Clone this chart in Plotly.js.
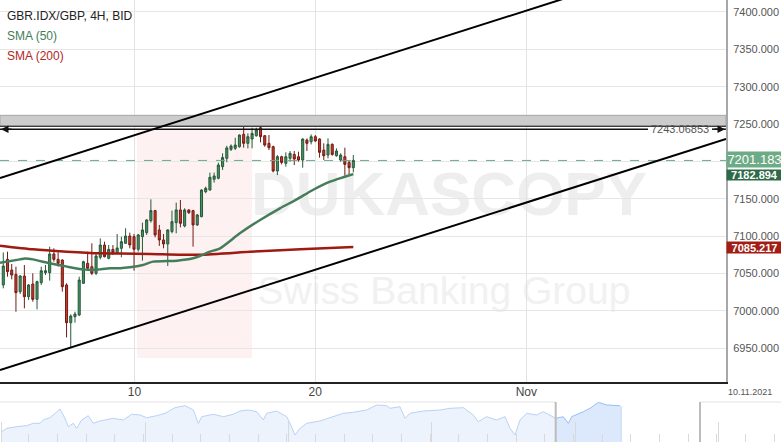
<!DOCTYPE html>
<html><head><meta charset="utf-8">
<script src="https://cdn.plot.ly/plotly-3.0.1.min.js"></script>
<style>html,body{margin:0;padding:0;background:#fff;overflow:hidden}#chart{width:781px;height:442px}</style>
</head><body><div id="chart"></div><script>
// ---- data ----
const candleOpen = [7034.4,7068.7,7054.4,7048.6,7025.4,7046.4,7018.7,7035.7,7015.2,7037.5,
 7050.9,7050.9,7075.9,7068.7,7067.8,7034.4,6983.9,6991.9,6994.2,7036.6,
 7063.4,7058.9,7050.0,7071.4,7087.9,7070.1,7082.1,7077.7,7083.5,7090.2,
 7100.0,7099.1,7082.2,7099.1,7104.5,7120.6,7134.0,7108.1,7094.7,7089.3,
 7105.9,7117.9,7134.9,7113.4,7134.9,7134.0,7114.8,7125.9,7159.4,7161.6,
 7175.9,7177.3,7192.9,7204.0,7216.0,7217.4,7219.6,7236.1,7224.1,7229.9,
 7234.3,7245.0,7234.3,7224.1,7219.6,7187.0,7206.2,7197.3,7204.0,7209.3,
 7206.2,7201.7,7228.5,7226.3,7233.0,7229.9,7215.1,7208.4,7222.7,7207.5,
 7201.7,7206.2,7198.6,7191.5];
const candleHigh = [7078.0,7079.0,7062.5,7058.9,7047.7,7061.1,7035.7,7050.0,7040.2,7058.9,
 7061.1,7085.7,7083.5,7078.1,7068.7,7036.6,6995.1,6998.6,7045.5,7066.9,
 7079.0,7090.2,7076.8,7096.8,7092.4,7087.9,7087.9,7102.7,7099.1,7110.3,
 7104.5,7102.7,7102.7,7117.9,7122.4,7149.1,7134.9,7114.8,7102.7,7109.0,
 7134.0,7144.7,7148.2,7137.1,7135.8,7134.9,7129.5,7162.5,7166.1,7184.9,
 7184.9,7198.2,7210.7,7220.8,7222.7,7231.6,7236.1,7246.4,7237.4,7245.0,
 7245.0,7247.7,7235.2,7235.2,7220.9,7208.4,7207.5,7212.0,7213.8,7213.8,
 7212.9,7230.8,7230.8,7236.1,7235.2,7230.8,7224.1,7230.8,7224.1,7217.4,
 7210.7,7218.3,7201.7,7208.4];
const candleLow = [7029.9,7045.5,7041.9,6998.6,7022.3,7003.1,7014.3,7012.0,7001.8,7034.4,
 7047.7,7040.2,7065.6,7058.9,7025.4,6964.3,6950.9,6983.9,6992.8,7035.7,
 7054.4,7047.7,7047.7,7068.7,7071.4,7068.7,7074.5,7076.8,7071.5,7089.3,
 7083.5,7053.6,7079.1,7067.0,7101.4,7117.9,7098.2,7086.7,7083.5,7059.9,
 7103.6,7103.6,7111.6,7111.6,7129.5,7085.7,7113.4,7125.0,7157.2,7160.7,
 7171.5,7175.9,7188.4,7198.8,7213.8,7215.1,7218.3,7218.3,7217.4,7217.4,
 7233.0,7225.4,7219.6,7215.1,7185.2,7181.6,7195.9,7192.8,7199.5,7195.0,
 7199.5,7191.5,7213.8,7222.7,7226.3,7204.9,7201.7,7204.0,7207.5,7206.2,
 7199.5,7180.8,7182.5,7185.2];
const candleClose = [7059.8,7052.2,7047.7,7024.1,7046.4,7018.7,7034.4,7015.2,7038.8,7053.5,
 7053.5,7075.9,7068.7,7063.4,7032.1,6983.9,6992.8,6995.5,7041.0,7065.6,
 7056.7,7050.0,7073.2,7087.9,7072.3,7082.1,7077.7,7084.0,7092.4,7100.0,
 7088.0,7082.2,7101.4,7108.1,7121.5,7134.0,7101.4,7094.7,7089.3,7108.1,
 7119.2,7134.9,7117.0,7134.9,7131.3,7114.8,7128.2,7161.6,7163.9,7178.6,
 7180.4,7195.1,7205.0,7218.0,7220.5,7221.8,7235.2,7224.1,7233.0,7237.4,
 7241.9,7233.0,7221.8,7218.3,7187.0,7206.2,7198.6,7206.2,7210.7,7203.1,
 7201.7,7229.9,7224.1,7233.0,7227.2,7212.0,7207.5,7222.7,7209.3,7213.8,
 7208.4,7195.9,7191.5,7201.2];

// SMA readings (candle position, value)
const sma50X = [-0.78,3.96,5.15,7.04,11.07,15.1,18.9,21.3,22.9,25.3,27.7,30.0,33.1,35.5,41.2,45.0,46.6,49.0,51.4,56.1,60.9,65.6,69.6,73.4,77.5,80.6,83.0];
const sma50Y = [7064.3,7068.7,7070.0,7068.7,7063.4,7059.0,7055.3,7054.4,7055.3,7056.7,7056.7,7058.0,7061.2,7065.7,7067.0,7070.1,7073.2,7079.0,7083.5,7103.6,7121.4,7137.1,7149.1,7161.6,7172.7,7178.6,7182.9];
const sma200X = [-0.78,7.04,15.1,22.9,27.7,34.8,46.6,58.5,70.4,83.0];
const sma200Y = [7087.0,7082.1,7079.0,7076.8,7076.5,7076.0,7074.8,7078.8,7082.4,7085.2];

// channel trend lines: [x0, y0, x1, y1]
const upperChannel = [-0.78, 7177.7, 171.38, 7486.9];
const lowerChannel = [-0.78, 6920.5, 171.38, 7229.9];
const resistanceLevel = 7243.06853;
const resistanceZone = [7247.0, 7261.6];

const lastPrice = 7201.183;
const lastSma50 = 7182.894;
const lastSma200 = 7085.217;

const xTickPos = [31.11, 73.96, 124.04];
const xTickText = ['10', '20', 'Nov'];
const yTicks = [6950,7000,7050,7100,7150,7200,7250,7300,7350,7400];
// 7200.000 sits under the last-price box in the reference, so it shows no text
const yTickText = ['6950.000','7000.000','7050.000','7100.000','7150.000','','7250.000','7300.000','7350.000','7400.000'];

// navigator overview (horizontal position, height)
const navX1 = [1.7,6.7,16.7,26.7,33.3,40,43.3,50,60,65,68.3,73.3,76.7,81.7,88.3,93.3,100,113.3,123.3,131.7,140,146.7,156.7,165,175,185,193.3,198.3,201.7,213.3,223.3,233.3,240,248.3,256.7,263.3,266.7,276.7,286.7,290,295,300,306.7,320,330,333.3,343.3,353.3,366.7,376.7,386.7,390,400,405,410,423.3,440,450,463.3,473.3,478.3,486.7,496.7,505,510,515,520,526.7,536.7,543.3,550,555.7];
const navY1 = [10.3,13.7,15.3,16.3,18.7,18.7,22,24.3,33,23.7,15.3,18.7,13.7,22,26.3,18.7,21,23.7,22,27.7,27,24.3,26.3,28.7,34.3,36.3,32,18.7,25.3,27.7,25.3,27.7,31,32,30.3,22,28.7,31,25.3,18.7,7,13.7,18.7,21,24.3,25.3,28.7,29.7,32,37,36.3,33.7,35.3,23.7,28.7,31,32,33.7,34.3,27,20.3,25.3,22,25.3,13.7,7,22,28.7,27,30.3,27,23.7];
const navX2 = [555.7,563.3,568.3,571.7,583.3,590,598.3,606.7,620];
const navY2 = [23.7,25.3,18.7,25.3,30.3,33.7,39.7,37,36.3];

// ---- geometry ----
const W = 781, H = 442, PLOT_R = 726, PLOT_B = 382, NAV_T = 402;
const FONT = 'Liberation Sans, Arial, sans-serif';
const dx = px => px / PLOT_R;            // x domain fraction
const dy = py => (PLOT_B - py) / PLOT_B; // y domain fraction
const pxp = px => px / W;                // paper x
const pyp = py => 1 - py / H;            // paper y

const idx = candleOpen.map((_, i) => i);

const traces = [
  {type:'candlestick', x: idx, open: candleOpen, high: candleHigh, low: candleLow, close: candleClose,
   xaxis:'x', yaxis:'y', whiskerwidth:0, hoverinfo:'skip',
   increasing:{line:{color:'#27593a', width:1}, fillcolor:'#449262'},
   decreasing:{line:{color:'#731c14', width:1}, fillcolor:'#c43b2d'}},
  {type:'scatter', mode:'lines', x: sma200X, y: sma200Y, xaxis:'x', yaxis:'y',
   line:{color:'#9e1a12', width:2.5, shape:'spline', smoothing:0.6}, hoverinfo:'skip'},
  {type:'scatter', mode:'lines', x: sma50X, y: sma50Y, xaxis:'x', yaxis:'y',
   line:{color:'#457d5b', width:2.5, shape:'spline', smoothing:0.6}, hoverinfo:'skip'},
  {type:'scatter', mode:'lines', x: navX1, y: navY1, xaxis:'x2', yaxis:'y2', fill:'tozeroy',
   fillcolor:'#edf3fd', line:{color:'#b9d2f6', width:1}, hoverinfo:'skip'},
  {type:'scatter', mode:'lines', x: navX2, y: navY2, xaxis:'x2', yaxis:'y2', fill:'tozeroy',
   fillcolor:'#dce8fb', line:{color:'#98bff3', width:1}, hoverinfo:'skip'}
];

const shapes = [
  // watermark logo
  {type:'rect', layer:'below', xref:'x domain', yref:'y domain', x0:dx(137), x1:dx(252), y0:dy(358), y1:dy(130),
   fillcolor:'#fdf1f1', line:{width:0}},
  // watermark texts
  {type:'rect', layer:'below', xref:'x domain', yref:'y domain', x0:dx(249), x1:dx(649), y0:dy(227), y1:dy(147),
   fillcolor:'rgba(0,0,0,0)', line:{width:0},
   label:{text:'DUKASCOPY', textposition:'middle center',
     font:{family:'Liberation Sans, Arial, sans-serif', size:62, color:'#eeeeee', weight:'bold'}}},
  {type:'rect', layer:'below', xref:'x domain', yref:'y domain', x0:dx(244), x1:dx(644), y0:dy(306), y1:dy(266),
   fillcolor:'rgba(0,0,0,0)', line:{width:0},
   label:{text:'Swiss Banking Group', textposition:'middle center',
     font:{family:'Liberation Sans, Arial, sans-serif', size:39, color:'#f1f1f1'}}},
  // resistance zone
  {type:'rect', layer:'above', xref:'x domain', yref:'y', x0:0, x1:1, y0:resistanceZone[0], y1:resistanceZone[1],
   fillcolor:'#cccccc', line:{color:'#a5a5a5', width:1}},
  {type:'line', layer:'above', xref:'x domain', yref:'y', x0:0, x1:1, y0:resistanceZone[0], y1:resistanceZone[0],
   line:{color:'#111', width:1}},
  // resistance line (broken around its label)
  {type:'line', layer:'above', xref:'x domain', yref:'y', x0:0, x1:dx(648), y0:resistanceLevel, y1:resistanceLevel,
   line:{color:'#111', width:1.5}},
  {type:'line', layer:'above', xref:'x domain', yref:'y', x0:dx(712), x1:1, y0:resistanceLevel, y1:resistanceLevel,
   line:{color:'#111', width:1.5}},
  // last price
  {type:'line', layer:'above', xref:'x domain', yref:'y', x0:0, x1:1, y0:lastPrice, y1:lastPrice,
   line:{color:'#6dab87', width:1, dash:'dash'}},
  // channel
  {type:'line', layer:'above', xref:'x', yref:'y', x0:upperChannel[0], y0:upperChannel[1], x1:upperChannel[2], y1:upperChannel[3],
   line:{color:'#000', width:2}},
  {type:'line', layer:'above', xref:'x', yref:'y', x0:lowerChannel[0], y0:lowerChannel[1], x1:lowerChannel[2], y1:lowerChannel[3],
   line:{color:'#000', width:2}},
  // navigator frame
  {type:'line', xref:'paper', yref:'paper', x0:0, x1:pxp(555.7), y0:pyp(NAV_T), y1:pyp(NAV_T), line:{color:'#e2e2e2', width:1}},
  {type:'line', xref:'paper', yref:'paper', x0:pxp(700), x1:1, y0:pyp(NAV_T), y1:pyp(NAV_T), line:{color:'#e2e2e2', width:1}},
  {type:'line', xref:'paper', yref:'paper', x0:pxp(621), x1:pxp(621), y0:0, y1:pyp(406), line:{color:'#a9c8f4', width:1}},
  {type:'line', xref:'paper', yref:'paper', x0:pxp(555.7), x1:pxp(555.7), y0:0, y1:pyp(NAV_T), line:{color:'#bcbcbc', width:2}},
  {type:'line', xref:'paper', yref:'paper', x0:pxp(700), x1:pxp(700), y0:0, y1:pyp(NAV_T), line:{color:'#bcbcbc', width:2}}
];

const boxLabel = (val, bg, size, h, bold, shift) => ({xref:'paper', yref:'y', x:pxp(PLOT_R), y:val, xanchor:'left', yanchor:'middle',
  text: val.toFixed(3), showarrow:false, bgcolor:bg, width:55, height:h, borderpad:0, align:'center', yshift:shift,
  font:{family:FONT, size:size, color:'#fff', weight: bold ? 'bold' : 'normal'}});

const annotations = [
  {xref:'paper', yref:'paper', x:pxp(5), y:pyp(16), xanchor:'left', yanchor:'middle', showarrow:false,
   text:'GBR.IDX/GBP, 4H, BID', font:{family:FONT, size:12, color:'#222'}},
  {xref:'paper', yref:'paper', x:pxp(5), y:pyp(36), xanchor:'left', yanchor:'middle', showarrow:false,
   text:'SMA (50)', font:{family:FONT, size:12, color:'#3f7d58'}},
  {xref:'paper', yref:'paper', x:pxp(5), y:pyp(56), xanchor:'left', yanchor:'middle', showarrow:false,
   text:'SMA (200)', font:{family:FONT, size:12, color:'#b3261d'}},
  {xref:'x domain', yref:'y', x:dx(680), y:resistanceLevel, xanchor:'center', yanchor:'middle', showarrow:false,
   text: resistanceLevel.toFixed(5), font:{family:FONT, size:11, color:'#555'}},
  {xref:'x domain', yref:'y', x:dx(1), y:resistanceLevel, ax:12, ay:0, text:'', showarrow:true,
   arrowhead:2, arrowsize:1, arrowwidth:1.5, arrowcolor:'#111'},
  {xref:'x domain', yref:'y', x:dx(725), y:resistanceLevel, ax:-12, ay:0, text:'', showarrow:true,
   arrowhead:2, arrowsize:1, arrowwidth:1.5, arrowcolor:'#111'},
  boxLabel(lastSma200, '#a31d14', 11, 11, true, 0),
  boxLabel(lastSma50, '#2e6a47', 11, 10, true, -1),
  boxLabel(lastPrice, '#6dab87', 13, 15, false, 1),
  {xref:'paper', yref:'paper', x:pxp(749.5), y:pyp(392), xanchor:'center', yanchor:'middle', showarrow:false,
   text:'10.11.2021', font:{family:FONT, size:9, color:'#555'}}
];

const layout = {
  width: W, height: H, margin:{l:0, r:0, t:0, b:0, pad:0},
  paper_bgcolor:'#fff', plot_bgcolor:'rgba(0,0,0,0)', showlegend:false, hovermode:false,
  xaxis:{domain:[0, PLOT_R/W], range:[-0.78, 171.38], anchor:'y', tickmode:'array', tickvals:xTickPos, ticktext:xTickText,
    showgrid:true, gridcolor:'#e3e3e3', gridwidth:1, zeroline:false, showline:true, linecolor:'#222', linewidth:1.5,
    ticks:'', ticklabelstandoff:-2, tickfont:{family:FONT, size:12, color:'#444'},
    rangeslider:{visible:false}, fixedrange:true},
  yaxis:{domain:[(H-PLOT_B)/H, 1], range:[6904.47, 7416.06], anchor:'x', side:'right', tickmode:'array', tickvals:yTicks,
    ticktext:yTickText, showgrid:true, gridcolor:'#e6e6e6', gridwidth:1, zeroline:false, showline:true, linecolor:'#a8a8a8', linewidth:2,
    ticks:'outside', ticklen:3, tickcolor:'rgba(0,0,0,0)', tickfont:{family:FONT, size:11, color:'#555'}, fixedrange:true},
  xaxis2:{domain:[0,1], range:[0, W], anchor:'y2', showgrid:false, zeroline:false, showline:false, showticklabels:false,
    ticks:'inside', ticklen:20, tickwidth:1, tickcolor:'#d9d9d9', tick0:1.7, dtick:143.33,
    minor:{ticks:'inside', ticklen:8, tickwidth:1, tickcolor:'#d9d9d9', dtick:28.667, showgrid:false}, fixedrange:true},
  yaxis2:{domain:[0, (H-NAV_T)/H], range:[0, 40], anchor:'x2', showgrid:false, zeroline:false, showline:false,
    showticklabels:false, ticks:'', fixedrange:true},
  shapes: shapes, annotations: annotations
};

Plotly.newPlot('chart', traces, layout, {staticPlot:true, displayModeBar:false});
</script></body></html>
